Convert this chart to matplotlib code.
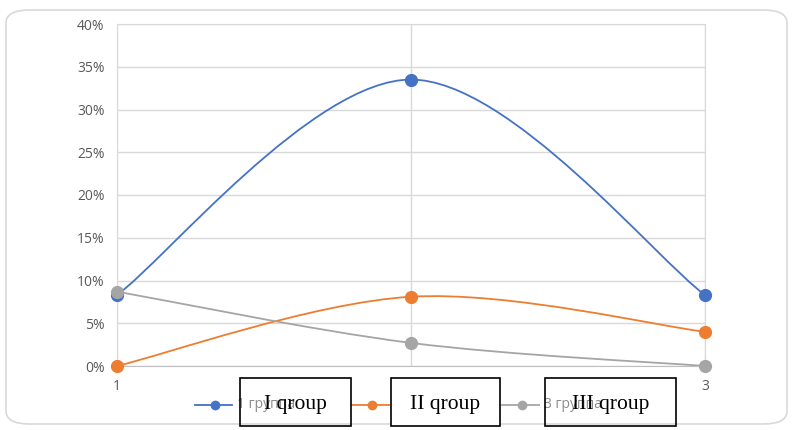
import numpy as np
import matplotlib.pyplot as plt
from matplotlib.path import Path
from matplotlib.patches import PathPatch, FancyBboxPatch
from matplotlib.lines import Line2D

x = [1, 2, 3]
group1 = [8.3, 33.5, 8.3]
group2 = [0.0, 8.1, 4.0]
group3 = [8.7, 2.7, 0.0]
series = [group1, group2, group3]
colors = ["#4472C4", "#ED7D31", "#A5A5A5"]
old_labels = ["1 группа", "", "3 группа"]   # 2nd one is hidden under the box
new_labels = ["I qroup", "II qroup", "III qroup"]
yticks = [0, 5, 10, 15, 20, 25, 30, 35, 40]


def smooth_path(xs, ys):
    # Excel-style smoothed line: cubic Bezier with Catmull-Rom control points
    pts = np.column_stack([xs, ys]).astype(float)
    n = len(pts)
    verts = [pts[0]]
    codes = [Path.MOVETO]
    for i in range(n - 1):
        p0 = pts[max(i - 1, 0)]
        p1 = pts[i]
        p2 = pts[i + 1]
        p3 = pts[min(i + 2, n - 1)]
        c1 = p1 + (p2 - p0) / 6
        c2 = p2 - (p3 - p1) / 6
        verts += [c1, c2, p2]
        codes += [Path.CURVE4] * 3
    return Path(verts, codes)


fig = plt.figure(figsize=(7.93, 4.30), dpi=100)
fig.patches.append(FancyBboxPatch((6 / 793, 6 / 430), 781 / 793, 414 / 430,
                                  boxstyle="round,pad=0,rounding_size=0.03",
                                  transform=fig.transFigure, fc="white",
                                  ec="#D9D9D9", lw=1.2, zorder=-5))

ax = fig.add_axes([117 / 793, 1 - 366 / 430, 588 / 793, 342 / 430])
ax.set_facecolor("none")
ax.set_xlim(1, 3)
ax.set_ylim(0, 40)
ax.set_yticks(yticks)
ax.set_yticklabels([f"{t}%" for t in yticks])
ax.set_xticks(x)
ax.set_xticklabels(["1", "", "3"])
ax.grid(True, color="#D9D9D9", lw=1)
ax.set_axisbelow(True)
for side in ["left", "right", "top"]:
    ax.spines[side].set_color("#D9D9D9")
ax.spines["bottom"].set_color("#BFBFBF")
ax.tick_params(length=0, colors="#595959", labelsize=10, pad=9)
for lab in ax.get_xticklabels() + ax.get_yticklabels():
    lab.set_family("Open Sans")

for ys, c in zip(series, colors):
    ax.add_patch(PathPatch(smooth_path(x, ys), fc="none", ec=c, lw=1.3, zorder=3))
    ax.plot(x, ys, "o", color=c, ms=8.5, zorder=4, clip_on=False)

# original legend underneath
leg_y = 1 - 405 / 430
for cx, c, lab in zip([215, 372, 522], colors, old_labels):
    fig.add_artist(Line2D([(cx - 20) / 793, (cx + 17) / 793], [leg_y, leg_y],
                          color=c, lw=1.3))
    fig.add_artist(Line2D([cx / 793], [leg_y], color=c, marker="o", ms=6))
    if lab:
        fig.text((cx + 22) / 793, leg_y, lab, color="#8C8C8C", fontsize=10,
                 family="Open Sans", va="center")

# overlay boxes
boxes = [(240, 351, False), (391, 500, True), (545, 676, False)]
for (x0, x1, filled), lab in zip(boxes, new_labels):
    fig.patches.append(FancyBboxPatch((x0 / 793, 1 - 426 / 430), (x1 - x0) / 793, 48 / 430,
                                      boxstyle="square,pad=0", transform=fig.transFigure,
                                      fc="white" if filled else "none", ec="black",
                                      lw=1.2, zorder=5))
    fig.text((x0 + x1) / 2 / 793, 1 - 405 / 430, lab, fontsize=15.5,
             family="Liberation Serif", ha="center", va="center", zorder=6)

fig.savefig("out.png", dpi=100)
